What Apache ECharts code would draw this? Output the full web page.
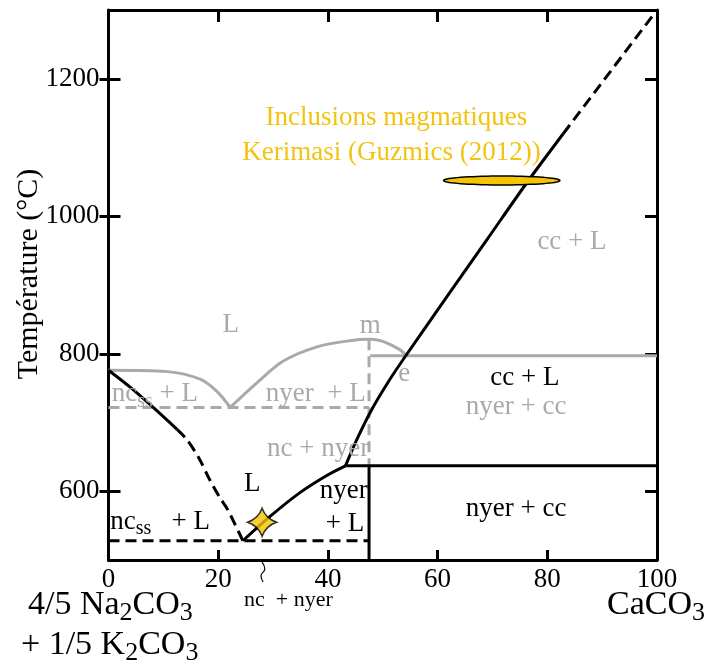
<!DOCTYPE html>
<html>
<head>
<meta charset="utf-8">
<script src="https://cdn.jsdelivr.net/npm/echarts@6/dist/echarts.min.js"></script>
<style>
  html, body { margin: 0; padding: 0; background: #ffffff; }
  #chart { width: 707px; height: 668px; }
</style>
</head>
<body>
<div id="chart"></div>
<script>
// Axis ticks
const xTicks = [0, 20, 40, 60, 80, 100];
const yTicks = [600, 800, 1000, 1200];

// Phase boundaries, [wt% CaCO3, °C] -- solid black (stable) diagram
const ncLiquidusSolid  = [[0, 776], [4, 751], [8, 723], [12.5, 690]];
const ncLiquidusDashed = [[12.5, 690], [14.3, 675], [16.5, 648], [18.5, 616], [20.2, 592], [21.6, 575], [23.0, 553], [24.5, 528]];
const nyerLiquidus     = [[24.5, 528], [29.4, 563], [34.9, 598], [39.8, 623], [43.2, 637]];
const ccLiquidusSolid  = [[43.2, 637], [45.5, 679], [48.0, 719], [51.0, 759], [54.1, 796], [61.7, 883], [69.0, 966], [76.2, 1048], [82.9, 1120]];
const ccLiquidusDashed = [[82.9, 1120], [100, 1300]];
const lowEutectic      = [[0, 528], [47.5, 528]];
const nyerWall         = [[47.5, 500], [47.5, 637]];
const nyerCcSolidus    = [[43.2, 637], [100, 637]];

// Grey (earlier) diagram
const greyNcLiquidus   = [[0, 776], [10.7, 774], [16.7, 763], [19.8, 745], [22.2, 722]];
const greyNyerLiquidus = [[22.2, 722], [27.1, 758], [31.8, 789], [38.0, 810], [44.0, 819], [47.7, 821], [50.0, 818], [53.1, 806], [54.1, 799]];
const greyCcSolidus    = [[47.7, 797], [100, 797]];
const greyEutectic     = [[0, 722], [47.5, 722]];
const greyNyerWall     = [[47.5, 821], [47.5, 637]];

// Melt inclusions, Kerimasi: [x centre, T centre, x half-width, T half-height]
const inclusionField = [[71.7, 1052, 10.6, 6.5]];
// Eutectic composition marker
const eutecticStar = [[28.0, 555]];
// Pointer from the "nc + nyer" label up to the low eutectic field
const pointerLine = [[28.0, 497], [28.5, 487], [27.8, 477], [28.2, 468]];

// Field labels: [x, T, text, tone, align]
const fieldLabels = [
  [22.3, 842, 'L', 'grey'],
  [47.7, 840, 'm', 'grey'],
  [53.9, 771, 'e', 'grey'],
  [0.6, 741, '{t|nc}{s|ss}{t| + L}', 'grey', 'left'],
  [37.8, 741, 'nyer  + L', 'grey'],
  [38.2, 661, 'nc + nyer', 'grey'],
  [84.5, 962, 'cc + L', 'grey'],
  [75.9, 765, 'cc + L', 'black'],
  [74.3, 723, 'nyer + cc', 'grey'],
  [26.2, 610, 'L', 'black'],
  [42.9, 600, 'nyer', 'black'],
  [43.1, 553, '+ L', 'black'],
  [0.3, 556, '{t|nc}{s|ss}{t|   + L}', 'black', 'left'],
  [74.3, 574, 'nyer + cc', 'black'],
  [52.5, 1143, 'Inclusions magmatiques', 'gold'],
  [51.6, 1092, 'Kerimasi (Guzmics (2012))', 'gold']
];
const belowAxisLabels = [[32.8, 441, 'nc  + nyer', 'black']];

const SERIF = '"Liberation Serif", "Times New Roman", serif';
const TONES = { black: '#000000', grey: '#a9a9a9', gold: '#f3c311' };
const GOLD_FILL = '#f5c400';

function richFor(color, size) {
  return {
    t: { fill: color, fontSize: size, fontFamily: SERIF },
    s: { fill: color, fontSize: Math.round(size * 0.75), fontFamily: SERIF, padding: [Math.round(size * 0.5), 0, 0, 0] }
  };
}

function boundary(data, color, dashed, smooth) {
  return {
    type: 'line', data: data, symbol: 'none', showSymbol: false, silent: true,
    smooth: smooth ? 0.3 : false,
    lineStyle: { color: color, width: 3, type: dashed ? [11, 6] : 'solid', cap: 'butt', join: 'round' },
    z: color === TONES.grey ? 2 : 3, animation: false
  };
}

function textSeries(list, size) {
  return {
    type: 'custom', coordinateSystem: 'cartesian2d', silent: true, animation: false, z: 6,
    data: list.map((l, i) => [l[0], l[1], i]),
    renderItem: function (params, api) {
      const l = list[api.value(2)];
      const p = api.coord([api.value(0), api.value(1)]);
      const color = TONES[l[3]];
      const txt = l[2].indexOf('{') === 0 ? l[2] : '{t|' + l[2] + '}';
      return {
        type: 'text', x: p[0], y: p[1],
        style: {
          text: txt, rich: richFor(color, size), fill: color,
          fontSize: size, fontFamily: SERIF,
          align: l[4] || 'center', verticalAlign: 'middle'
        }
      };
    }
  };
}

const chart = echarts.init(document.getElementById('chart'), null, { renderer: 'canvas' });

const axisLineStyle = { color: '#000', width: 3 };
const tickStyle = { color: '#000', width: 3 };

chart.setOption({
  animation: false,
  backgroundColor: '#ffffff',
  grid: { left: 108.5, right: 50, top: 10, bottom: 108, containLabel: false, outerBoundsMode: 'none' },
  xAxis: [
    {
      type: 'value', position: 'bottom', min: 0, max: 100, interval: 20,
      axisLine: { show: true, onZero: false, lineStyle: axisLineStyle },
      axisTick: { show: true, inside: true, length: 10, lineStyle: tickStyle },
      axisLabel: { color: '#000', fontSize: 27, fontFamily: SERIF, margin: 6, formatter: v => String(v) },
      splitLine: { show: false }
    },
    {
      type: 'value', position: 'top', min: 0, max: 100, interval: 20,
      axisLine: { show: true, onZero: false, lineStyle: axisLineStyle },
      axisTick: { show: true, inside: true, length: 12, lineStyle: tickStyle },
      axisLabel: { show: false }, splitLine: { show: false }
    }
  ],
  yAxis: [
    {
      type: 'value', position: 'left', min: 500, max: 1300,
      axisLine: { show: true, onZero: false, lineStyle: axisLineStyle },
      axisTick: { show: true, inside: false, length: 9, customValues: yTicks, lineStyle: tickStyle },
      axisLabel: { customValues: yTicks, color: '#000', fontSize: 27, fontFamily: SERIF, margin: 9, formatter: v => String(v) },
      splitLine: { show: false }
    },
    {
      type: 'value', position: 'left', min: 500, max: 1300,
      axisLine: { show: false },
      axisTick: { show: true, inside: true, length: 12, customValues: yTicks, lineStyle: tickStyle },
      axisLabel: { show: false }, splitLine: { show: false }
    },
    {
      type: 'value', position: 'right', min: 500, max: 1300,
      axisLine: { show: true, onZero: false, lineStyle: axisLineStyle },
      axisTick: { show: true, inside: true, length: 12, customValues: yTicks, lineStyle: tickStyle },
      axisLabel: { show: false }, splitLine: { show: false }
    }
  ],
  graphic: [
    {
      type: 'text', x: 29, y: 274, rotation: Math.PI / 2, silent: true,
      style: {
        text: 'Température (°C)', fill: '#000', fontSize: 30, fontFamily: SERIF,
        align: 'center', verticalAlign: 'middle'
      }
    },
    {
      type: 'text', left: 28, top: 588, silent: true,
      style: {
        text: '{t|4/5 Na}{s|2}{t|CO}{s|3}', rich: richFor('#000', 34),
        fill: '#000', fontSize: 34, fontFamily: SERIF
      }
    },
    {
      type: 'text', left: 21, top: 628, silent: true,
      style: {
        text: '{t|+ 1/5 K}{s|2}{t|CO}{s|3}', rich: richFor('#000', 34),
        fill: '#000', fontSize: 34, fontFamily: SERIF
      }
    },
    {
      type: 'text', right: 2, top: 588, silent: true,
      style: {
        text: '{t|CaCO}{s|3}', rich: richFor('#000', 34),
        fill: '#000', fontSize: 34, fontFamily: SERIF
      }
    }
  ],
  series: [
    boundary(greyEutectic, TONES.grey, true, false),
    boundary(greyNyerWall, TONES.grey, true, false),
    boundary(greyCcSolidus, TONES.grey, false, false),
    boundary(greyNcLiquidus, TONES.grey, false, true),
    boundary(greyNyerLiquidus, TONES.grey, false, true),

    boundary(ncLiquidusSolid, '#000', false, true),
    boundary(ncLiquidusDashed, '#000', true, true),
    boundary(nyerLiquidus, '#000', false, true),
    boundary(ccLiquidusSolid, '#000', false, true),
    boundary(ccLiquidusDashed, '#000', true, false),
    boundary(lowEutectic, '#000', true, false),
    boundary(nyerWall, '#000', false, false),
    boundary(nyerCcSolidus, '#000', false, false),
    {
      type: 'line', data: pointerLine, symbol: 'none', smooth: 0.5, clip: false, silent: true,
      lineStyle: { color: '#000', width: 1.2 }, z: 4, animation: false
    },
    {
      type: 'custom', coordinateSystem: 'cartesian2d', silent: true, animation: false, z: 5,
      data: inclusionField,
      renderItem: function (params, api) {
        const c = api.coord([api.value(0), api.value(1)]);
        const e = api.coord([api.value(0) + api.value(2), api.value(1) + api.value(3)]);
        const rx = e[0] - c[0], ry = c[1] - e[1];
        const pts = [];
        for (let k = 0; k < 72; k++) {
          const a = k / 72 * Math.PI * 2;
          pts.push([c[0] + rx * Math.cos(a), c[1] + ry * Math.sin(a)]);
        }
        return {
          type: 'polygon', shape: { points: pts },
          style: { fill: GOLD_FILL, stroke: '#000', lineWidth: 1.5 }
        };
      }
    },
    {
      type: 'scatter', data: eutecticStar, silent: true, z: 7,
      symbol: 'path://M0,-10 Q2.6,-2.6 10,0 Q2.6,2.6 0,10 Q-2.6,2.6 -10,0 Q-2.6,-2.6 0,-10 Z',
      symbolSize: [29, 28],
      itemStyle: { color: GOLD_FILL, borderColor: '#000', borderWidth: 1.5 }
    },
    textSeries(fieldLabels, 27),
    textSeries(belowAxisLabels, 22)
  ]
});
</script>
</body>
</html>
